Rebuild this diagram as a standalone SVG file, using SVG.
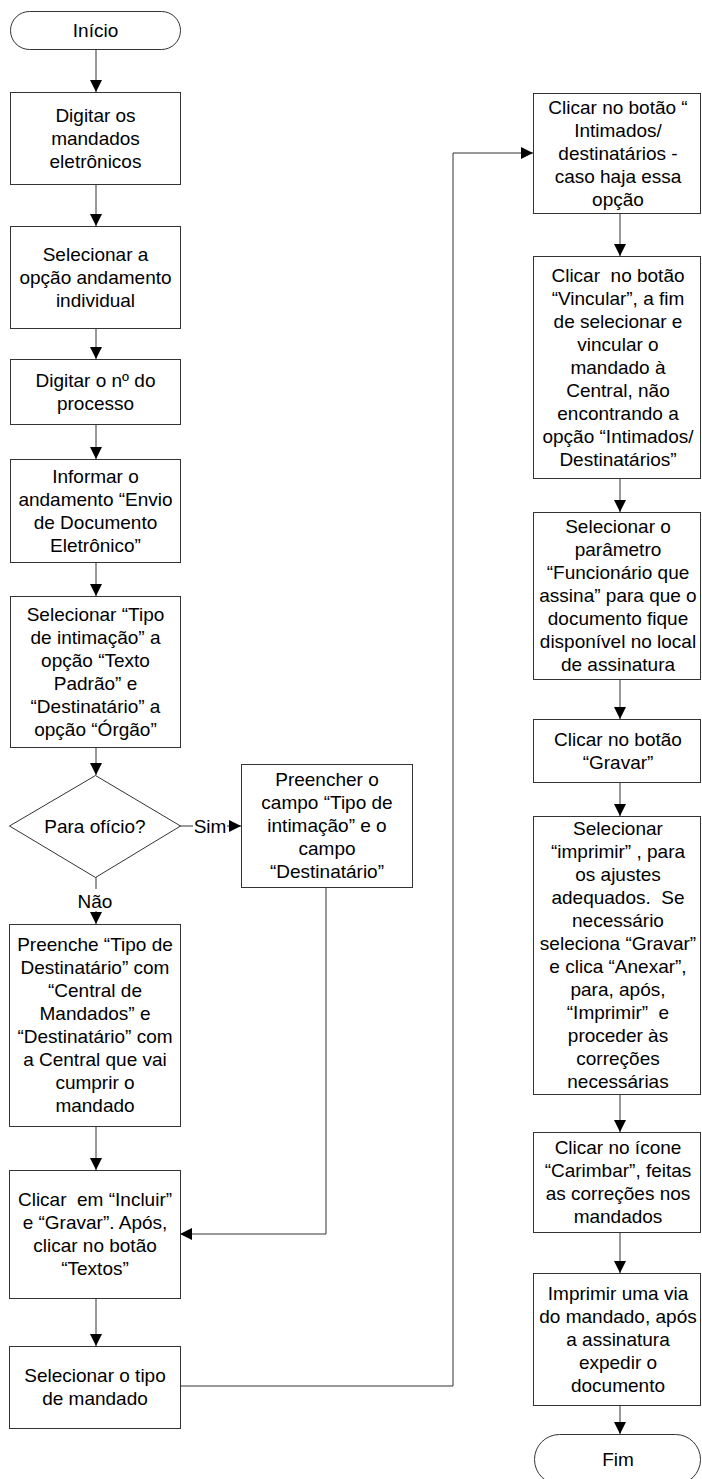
<svg xmlns="http://www.w3.org/2000/svg" width="702" height="1479" viewBox="0 0 702 1479">
<style>
  .box { fill: #ffffff; stroke: #333333; stroke-width: 1; }
  .t { font-family: "Liberation Sans", Arial, sans-serif; font-size: 19px; fill: #000000; text-anchor: middle; white-space: pre; }
  .c { fill: none; stroke: #333333; stroke-width: 1; }
  .lbl { fill: #ffffff; stroke: none; }
</style>
<defs>
  <marker id="arr" viewBox="0 0 10 10" refX="10" refY="5" markerUnits="userSpaceOnUse" markerWidth="12" markerHeight="12" orient="auto">
    <path d="M0,0 L10,5 L0,10 z" fill="#000000"/>
  </marker>
</defs>
<rect width="702" height="1479" fill="#ffffff"/>

<g id="connectors">
  <path class="c" d="M96,49 L96,92" marker-end="url(#arr)"/>
  <path class="c" d="M96,184 L96,226" marker-end="url(#arr)"/>
  <path class="c" d="M96,328 L96,359" marker-end="url(#arr)"/>
  <path class="c" d="M96,424 L96,459" marker-end="url(#arr)"/>
  <path class="c" d="M96,562 L96,596" marker-end="url(#arr)"/>
  <path class="c" d="M96,747 L96,775" marker-end="url(#arr)"/>
  <path class="c" d="M180,826 L241,826" marker-end="url(#arr)"/>
  <path class="c" d="M96,877 L96,924" marker-end="url(#arr)"/>
  <path class="c" d="M96,1126 L96,1170" marker-end="url(#arr)"/>
  <path class="c" d="M326,887 L326,1234 L180,1234" marker-end="url(#arr)"/>
  <path class="c" d="M96,1298 L96,1346" marker-end="url(#arr)"/>
  <path class="c" d="M180,1386 L453,1386 L453,153 L533,153" marker-end="url(#arr)"/>
  <path class="c" d="M620,213 L620,256" marker-end="url(#arr)"/>
  <path class="c" d="M620,478 L620,512" marker-end="url(#arr)"/>
  <path class="c" d="M620,679 L620,719" marker-end="url(#arr)"/>
  <path class="c" d="M620,782 L620,816" marker-end="url(#arr)"/>
  <path class="c" d="M620,1094 L620,1132" marker-end="url(#arr)"/>
  <path class="c" d="M620,1232 L620,1273" marker-end="url(#arr)"/>
  <path class="c" d="M620,1405 L620,1434" marker-end="url(#arr)"/>
  <rect class="lbl" x="193" y="815" width="34" height="22"/>
  <text class="t" x="210" y="832.5">Sim</text>
  <rect class="lbl" x="77" y="889" width="37" height="22"/>
  <text class="t" x="95" y="907.5">Não</text>
</g>

<g id="inicio">
  <rect class="box" x="10.5" y="11.5" width="170" height="38" rx="19" ry="19"/>
  <text class="t" x="95.5" y="36.5">Início</text>
</g>

<g id="digitar-mandados">
  <rect class="box" x="10.5" y="92.5" width="170" height="92"/>
  <text class="t" x="95.5" y="121.5">Digitar os</text>
  <text class="t" x="95.5" y="144.5">mandados</text>
  <text class="t" x="95.5" y="167.5">eletrônicos</text>
</g>

<g id="selecionar-andamento">
  <rect class="box" x="10.5" y="226.5" width="170" height="102"/>
  <text class="t" x="95.5" y="260.5">Selecionar a</text>
  <text class="t" x="95.5" y="283.5">opção andamento</text>
  <text class="t" x="95.5" y="306.5">individual</text>
</g>

<g id="digitar-processo">
  <rect class="box" x="10.5" y="359.5" width="170" height="65"/>
  <text class="t" x="95.5" y="386.5">Digitar o nº do</text>
  <text class="t" x="95.5" y="409.5">processo</text>
</g>

<g id="informar-andamento">
  <rect class="box" x="10.5" y="459.5" width="170" height="103"/>
  <text class="t" x="95.5" y="482.5">Informar o</text>
  <text class="t" x="95.5" y="505.5">andamento “Envio</text>
  <text class="t" x="95.5" y="528.5">de Documento</text>
  <text class="t" x="95.5" y="551.5">Eletrônico”</text>
</g>

<g id="selecionar-tipo-intimacao">
  <rect class="box" x="10.5" y="596.5" width="170" height="151"/>
  <text class="t" x="95.5" y="620.5">Selecionar “Tipo</text>
  <text class="t" x="95.5" y="643.5">de intimação” a</text>
  <text class="t" x="95.5" y="666.5">opção “Texto</text>
  <text class="t" x="95.5" y="689.5">Padrão” e</text>
  <text class="t" x="95.5" y="712.5">“Destinatário” a</text>
  <text class="t" x="95.5" y="735.5">opção “Órgão”</text>
</g>

<g id="para-oficio">
  <polygon class="box" points="95.5,775.5 180.5,826 95.5,877.5 9.5,826"/>
  <text class="t" x="95" y="832.5">Para ofício?</text>
</g>

<g id="preencher-campo">
  <rect class="box" x="241.5" y="764.5" width="171" height="123"/>
  <text class="t" x="327" y="786">Preencher o</text>
  <text class="t" x="327" y="809">campo “Tipo de</text>
  <text class="t" x="327" y="832">intimação” e o</text>
  <text class="t" x="327" y="855">campo</text>
  <text class="t" x="327" y="878">“Destinatário”</text>
</g>

<g id="preenche-tipo-destinatario">
  <rect class="box" x="9.5" y="924.5" width="171" height="202"/>
  <text class="t" x="95" y="951">Preenche “Tipo de</text>
  <text class="t" x="95" y="974">Destinatário” com</text>
  <text class="t" x="95" y="997">“Central de</text>
  <text class="t" x="95" y="1020">Mandados” e</text>
  <text class="t" x="95" y="1043">“Destinatário” com</text>
  <text class="t" x="95" y="1066">a Central que vai</text>
  <text class="t" x="95" y="1089">cumprir o</text>
  <text class="t" x="95" y="1112">mandado</text>
</g>

<g id="clicar-incluir">
  <rect class="box" x="9.5" y="1170.5" width="171" height="128"/>
  <text class="t" x="95" y="1206">Clicar  em “Incluir”</text>
  <text class="t" x="95" y="1229">e “Gravar”. Após,</text>
  <text class="t" x="95" y="1252">clicar no botão</text>
  <text class="t" x="95" y="1275">“Textos”</text>
</g>

<g id="selecionar-tipo-mandado">
  <rect class="box" x="9.5" y="1346.5" width="171" height="82"/>
  <text class="t" x="95" y="1382">Selecionar o tipo</text>
  <text class="t" x="95" y="1405">de mandado</text>
</g>

<g id="clicar-intimados">
  <rect class="box" x="533.5" y="93.5" width="167" height="120"/>
  <text class="t" x="618" y="113.5">Clicar no botão “</text>
  <text class="t" x="618" y="136.5">Intimados/</text>
  <text class="t" x="618" y="159.5">destinatários -</text>
  <text class="t" x="618" y="182.5">caso haja essa</text>
  <text class="t" x="618" y="205.5">opção</text>
</g>

<g id="clicar-vincular">
  <rect class="box" x="533.5" y="256.5" width="167" height="222"/>
  <text class="t" x="618" y="281.5">Clicar  no botão</text>
  <text class="t" x="618" y="304.5">“Vincular”, a fim</text>
  <text class="t" x="618" y="327.5">de selecionar e</text>
  <text class="t" x="618" y="350.5">vincular o</text>
  <text class="t" x="618" y="373.5">mandado à</text>
  <text class="t" x="618" y="396.5">Central, não</text>
  <text class="t" x="618" y="419.5">encontrando a</text>
  <text class="t" x="618" y="442.5">opção “Intimados/</text>
  <text class="t" x="618" y="465.5">Destinatários”</text>
</g>

<g id="selecionar-parametro">
  <rect class="box" x="533.5" y="512.5" width="167" height="167"/>
  <text class="t" x="618" y="533">Selecionar o</text>
  <text class="t" x="618" y="556">parâmetro</text>
  <text class="t" x="618" y="579">“Funcionário que</text>
  <text class="t" x="618" y="602">assina” para que o</text>
  <text class="t" x="618" y="625">documento fique</text>
  <text class="t" x="618" y="648">disponível no local</text>
  <text class="t" x="618" y="671">de assinatura</text>
</g>

<g id="clicar-gravar">
  <rect class="box" x="533.5" y="719.5" width="167" height="63"/>
  <text class="t" x="618" y="745.5">Clicar no botão</text>
  <text class="t" x="618" y="768.5">“Gravar”</text>
</g>

<g id="selecionar-imprimir">
  <rect class="box" x="533.5" y="816.5" width="167" height="278"/>
  <text class="t" x="618" y="835">Selecionar</text>
  <text class="t" x="618" y="858">“imprimir” , para</text>
  <text class="t" x="618" y="881">os ajustes</text>
  <text class="t" x="618" y="904">adequados.  Se</text>
  <text class="t" x="618" y="927">necessário</text>
  <text class="t" x="618" y="950">seleciona “Gravar”</text>
  <text class="t" x="618" y="973">e clica “Anexar”,</text>
  <text class="t" x="618" y="996">para, após,</text>
  <text class="t" x="618" y="1019">“Imprimir”  e</text>
  <text class="t" x="618" y="1042">proceder às</text>
  <text class="t" x="618" y="1065">correções</text>
  <text class="t" x="618" y="1088">necessárias</text>
</g>

<g id="clicar-carimbar">
  <rect class="box" x="533.5" y="1132.5" width="167" height="100"/>
  <text class="t" x="618" y="1154">Clicar no ícone</text>
  <text class="t" x="618" y="1177">“Carimbar”, feitas</text>
  <text class="t" x="618" y="1200">as correções nos</text>
  <text class="t" x="618" y="1223">mandados</text>
</g>

<g id="imprimir-via">
  <rect class="box" x="533.5" y="1273.5" width="167" height="132"/>
  <text class="t" x="618" y="1299.5">Imprimir uma via</text>
  <text class="t" x="618" y="1322.5">do mandado, após</text>
  <text class="t" x="618" y="1345.5">a assinatura</text>
  <text class="t" x="618" y="1368.5">expedir o</text>
  <text class="t" x="618" y="1391.5">documento</text>
</g>

<g id="fim">
  <rect class="box" x="534.5" y="1434.5" width="166" height="50" rx="25" ry="25"/>
  <text class="t" x="618" y="1465.5">Fim</text>
</g>
</svg>
